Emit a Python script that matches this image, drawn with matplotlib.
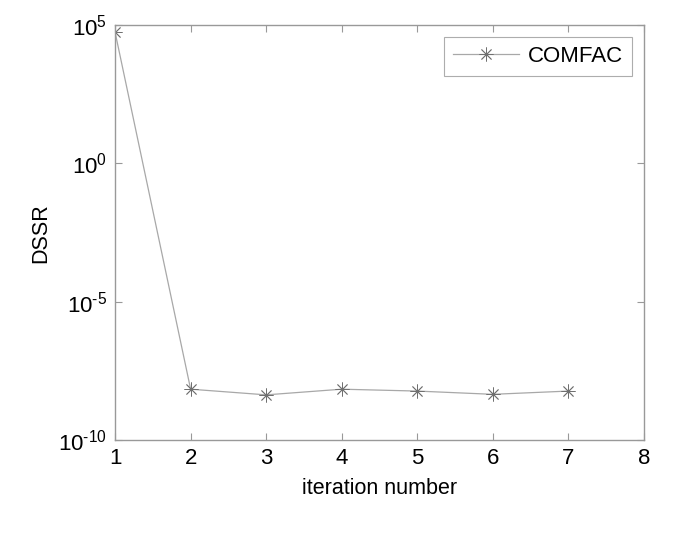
import numpy as np
import matplotlib
matplotlib.use("Agg")
import matplotlib.pyplot as plt
from matplotlib.ticker import FixedLocator, FixedFormatter, NullLocator

plt.rcParams['font.family'] = ['Liberation Sans', 'DejaVu Sans']
plt.rcParams['mathtext.fontset'] = 'custom'
plt.rcParams['mathtext.rm'] = 'Liberation Sans'

# data
iterations = [1, 2, 3, 4, 5, 6, 7]
dssr = [5.6e4, 6.9e-9, 4.3e-9, 6.9e-9, 5.9e-9, 4.5e-9, 5.9e-9]
xticks = [1, 2, 3, 4, 5, 6, 7, 8]
yticks = [1e-10, 1e-5, 1e0, 1e5]
ytick_labels = [r'$\mathregular{10^{\text{-}10}}$', r'$\mathregular{10^{\text{-}5}}$',
                r'$\mathregular{10^{0}}$', r'$\mathregular{10^{5}}$']

fig = plt.figure(figsize=(6.85, 5.48), dpi=100)
ax = fig.add_axes([0.168, 0.197, 0.772, 0.757])

ax.semilogy(iterations, dssr, color='#a8a8a8', lw=0.9, marker=(8, 2, 0),
            markersize=10, markeredgecolor='#707070',
            markeredgewidth=0.6, label='COMFAC')

ax.set_xlim(1, 8)
ax.set_ylim(1e-10, 1e5)
ax.xaxis.set_major_locator(FixedLocator(xticks))
ax.yaxis.set_major_locator(FixedLocator(yticks))
ax.yaxis.set_major_formatter(FixedFormatter(ytick_labels))
ax.yaxis.set_minor_locator(NullLocator())

ax.tick_params(direction='in', top=True, right=True, length=5, width=0.8,
               color='#999999', labelsize=16, pad=6)
for s in ax.spines.values():
    s.set_color('#999999')
    s.set_linewidth(1.0)

ax.set_xlabel('iteration number', fontsize=15.5, labelpad=6)
ax.set_ylabel('DSSR', fontsize=15.5, labelpad=5)

leg = ax.legend(loc='upper right', fontsize=16, fancybox=False,
                edgecolor='#999999', handlelength=3.0, borderpad=0.4,
                handletextpad=0.4, borderaxespad=0.5,
                bbox_to_anchor=(0.999, 0.998))
leg.get_frame().set_linewidth(0.8)

fig.savefig('out.png', dpi=100, facecolor='white')
